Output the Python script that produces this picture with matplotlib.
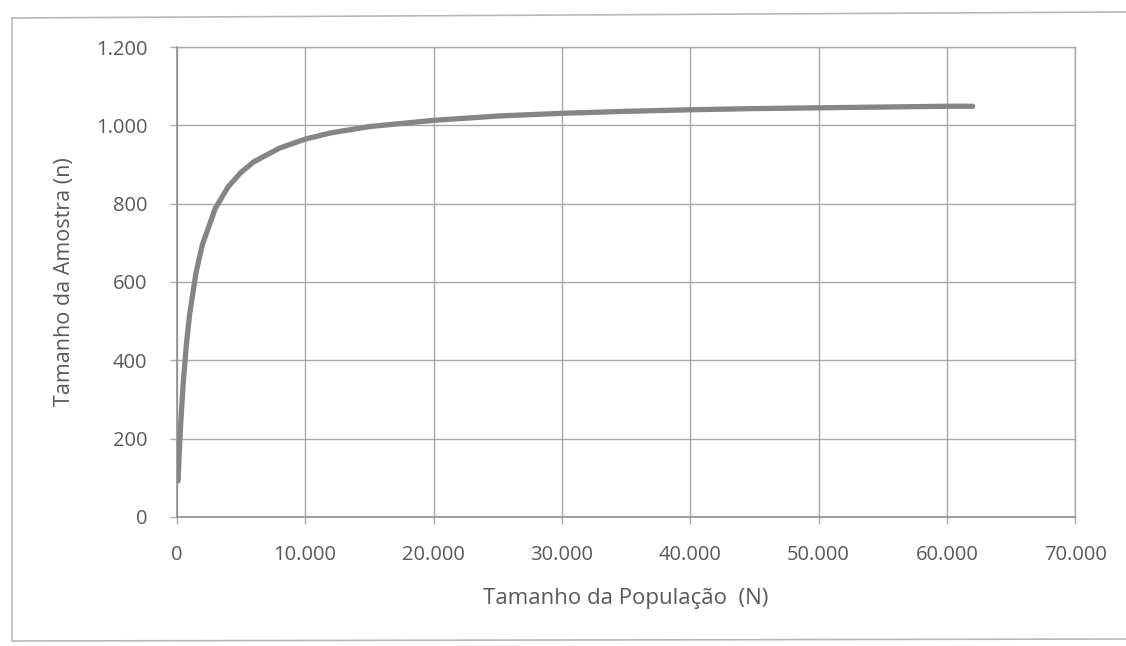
import matplotlib
matplotlib.use("Agg")
import matplotlib.pyplot as plt
from matplotlib.ticker import FuncFormatter, MultipleLocator
from matplotlib.lines import Line2D

# values
populacao = [100, 200, 300, 500, 750, 1000, 1500, 2000, 3000, 4000, 5000,
             6000, 8000, 10000, 12000, 15000, 20000, 25000, 30000, 35000,
             40000, 45000, 50000, 55000, 60000, 62000]
amostra = [92, 169, 235, 341, 441, 517, 624, 696, 788, 843, 880,
           907, 942, 965, 981, 997, 1013, 1024, 1031, 1036,
           1040, 1043, 1045, 1047, 1049, 1049]

x_label = "Tamanho da População  (N)"
y_label = "Tamanho da Amostra (n)"

plt.rcParams['font.family'] = ['Open Sans', 'DejaVu Sans']
txt_color = '#595959'
grid_color = '#a8a8a8'

fig = plt.figure(figsize=(11.26, 6.46), dpi=100)
ax = fig.add_axes([0.157, 0.2, 0.798, 0.727])

ax.plot(populacao, amostra, color='#858585', linewidth=3.8,
        solid_capstyle='round', solid_joinstyle='round', zorder=3)

ax.set_xlim(0, 70000)
ax.set_ylim(0, 1200)
ax.xaxis.set_major_locator(MultipleLocator(10000))
ax.yaxis.set_major_locator(MultipleLocator(200))

def milhar(v, pos):
    return f"{int(round(v)):,}".replace(",", ".")

ax.xaxis.set_major_formatter(FuncFormatter(milhar))
ax.yaxis.set_major_formatter(FuncFormatter(milhar))

ax.grid(True, color=grid_color, linewidth=1.0)
ax.set_axisbelow(True)
for s in ['top', 'right']:
    ax.spines[s].set_color(grid_color)
    ax.spines[s].set_linewidth(1.0)
for s in ['left', 'bottom']:
    ax.spines[s].set_color('#909090')
    ax.spines[s].set_linewidth(1.2)

ax.tick_params(axis='both', direction='out', length=5, width=1,
               color=grid_color, labelcolor=txt_color, labelsize=14.5)
ax.tick_params(axis='y', pad=16)
ax.tick_params(axis='x', pad=15)

ax.set_xlabel(x_label, fontsize=16, color=txt_color, labelpad=17)
ax.set_ylabel(y_label, fontsize=15.5, color=txt_color, labelpad=15)

# outer chart-area border (partially visible in the scan)
W, H = 1126, 646
border = dict(color='#b8b8b8', linewidth=1.2, transform=fig.transFigure)
fig.add_artist(Line2D([12 / W, 12 / W], [1 - 18 / H, 1 - 640 / H], **border))
fig.add_artist(Line2D([12 / W, 1.0], [1 - 18 / H, 1 - 12 / H], **border))
fig.add_artist(Line2D([12 / W, 1.0], [1 - 641 / H, 1 - 639 / H], **border))

fig.savefig("out.png", dpi=100)
